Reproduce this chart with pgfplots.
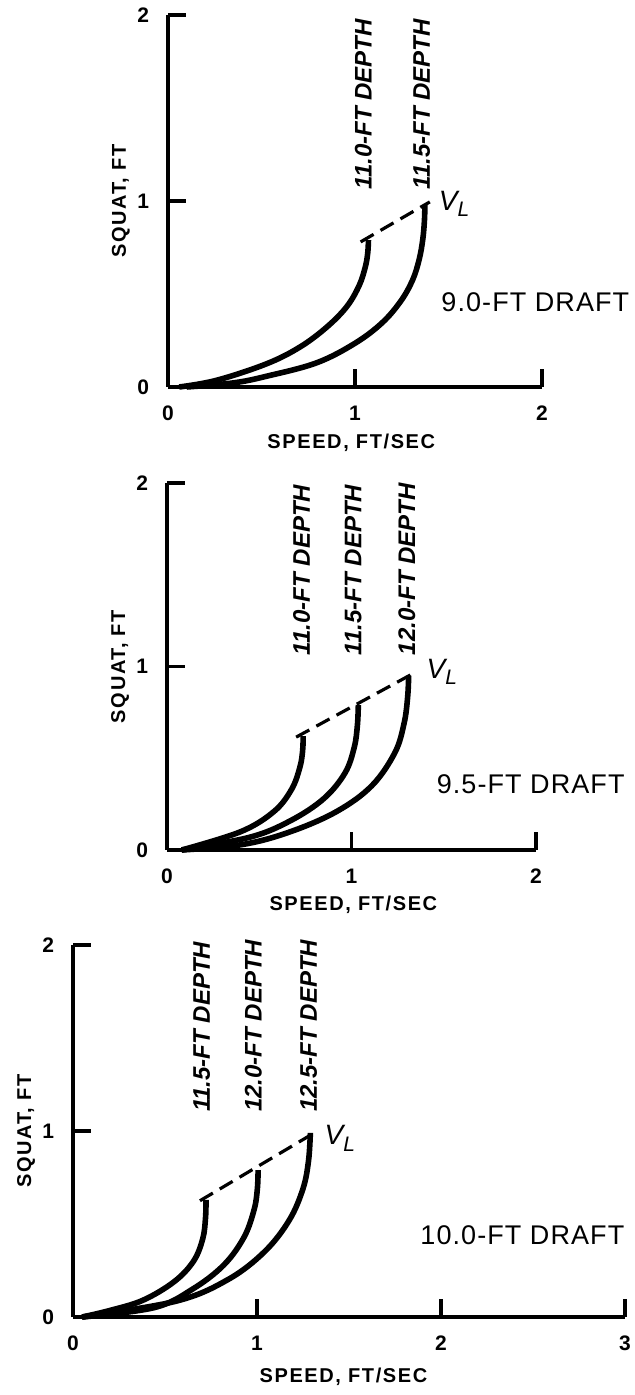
\documentclass[border=0pt]{standalone}
\usepackage{fontspec}
\setmainfont{Liberation Sans}
\usepackage{pgfplots}
\pgfplotsset{compat=1.18}
\begin{document}
\begin{tikzpicture}
\useasboundingbox (0,0) rectangle (317pt,697.5pt);
\pgfplotsset{
  squat/.style={
    scale only axis,
    anchor=south west,
    axis lines=left,
    axis line style={-, line width=1.6pt},
    enlargelimits=false,
    tick align=inside,
    major tick length=9pt,
    every tick/.style={black, line width=1.6pt},
    ymin=0, ymax=2, ytick={0,1,2},
    xmin=0,
    /pgf/number format/assume math mode=true,
    tick label style={font=\bfseries\fontsize{10.5}{12}\selectfont},
    yticklabel style={xshift=-6pt},
    xticklabel style={yshift=-6pt},
    label style={font=\bfseries\fontsize{10}{12}\selectfont\addfontfeature{LetterSpace=8}},
    xlabel={SPEED, FT/SEC},
    ylabel={SQUAT, FT},
    clip=false,
  },
  curve/.style={line width=2.8pt, smooth, tension=0.6, no markers, line cap=butt},
  vl/.style={line width=1.6pt, dash pattern=on 7.5pt off 4pt, no markers},
}
\tikzset{
  depth/.style={rotate=90, anchor=west, inner sep=0pt, font=\bfseries\itshape\fontsize{12}{14}\selectfont},
  draft/.style={anchor=west, inner sep=0pt, font=\fontsize{13.5}{15}\selectfont\addfontfeature{LetterSpace=4}},
  vlab/.style={anchor=center, inner sep=0pt, font=\itshape\fontsize{14}{16}\selectfont},
}
\newcommand{\VL}{V\raisebox{-0.45ex}{\fontsize{10.5}{12}\selectfont L}}

% ---------------- Panel 1: 9.0-FT DRAFT ----------------
\begin{axis}[squat, at={(84pt,504pt)}, width=187pt, height=186pt,
  xmax=2, xtick={0,1,2},
  xlabel style={at={(axis description cs:0.49,-0.15)}, anchor=center},
  ylabel style={at={(axis description cs:-0.126,0.5)}, anchor=center}]
\addplot[curve] coordinates {(0.06,0) (0.26,0.036) (0.528,0.125) (0.706,0.215) (0.849,0.322) (0.956,0.432) (1.022,0.545) (1.055,0.645) (1.068,0.72) (1.072,0.79)};
\addplot[curve] coordinates {(0.10,0) (0.349,0.022) (0.528,0.058) (0.795,0.13) (1.0,0.235) (1.145,0.345) (1.245,0.462) (1.308,0.575) (1.343,0.685) (1.362,0.79) (1.371,0.89) (1.374,0.978)};
\addplot[vl] coordinates {(1.03,0.78) (1.40,0.995)};
\node[depth] at (axis cs:1.045,1.06) {11.0-FT DEPTH};
\node[depth] at (axis cs:1.357,1.06) {11.5-FT DEPTH};
\node[vlab] at (axis cs:1.53,0.985) {\VL};
\node[draft] at (axis cs:1.46,0.455) {9.0-FT DRAFT};
\end{axis}

% ---------------- Panel 2: 9.5-FT DRAFT ----------------
\begin{axis}[squat, at={(83.5pt,272.5pt)}, width=184.5pt, height=183.5pt,
  xmax=2, xtick={0,1,2},
  xlabel style={at={(axis description cs:0.505,-0.15)}, anchor=center},
  ylabel style={at={(axis description cs:-0.127,0.5)}, anchor=center}]
\addplot[curve] coordinates {(0.08,0) (0.40,0.10) (0.58,0.21) (0.675,0.33) (0.72,0.45) (0.735,0.54) (0.738,0.62)};
\addplot[curve] coordinates {(0.08,0) (0.45,0.07) (0.67,0.16) (0.85,0.28) (0.965,0.42) (1.015,0.56) (1.032,0.68) (1.037,0.79)};
\addplot[curve] coordinates {(0.08,0) (0.41,0.03) (0.67,0.10) (0.92,0.21) (1.11,0.35) (1.235,0.53) (1.285,0.69) (1.304,0.83) (1.31,0.95)};
\addplot[vl] coordinates {(0.70,0.615) (1.34,0.965)};
\node[depth] at (axis cs:0.73,1.06) {11.0-FT DEPTH};
\node[depth] at (axis cs:1.01,1.06) {11.5-FT DEPTH};
\node[depth] at (axis cs:1.30,1.06) {12.0-FT DEPTH};
\node[vlab] at (axis cs:1.49,0.97) {\VL};
\node[draft] at (axis cs:1.46,0.36) {9.5-FT DRAFT};
\end{axis}

% ---------------- Panel 3: 10.0-FT DRAFT ----------------
\begin{axis}[squat, at={(36.5pt,39pt)}, width=276pt, height=186pt,
  xmax=3, xtick={0,1,2,3},
  xlabel style={at={(axis description cs:0.49,-0.161)}, anchor=center},
  ylabel style={at={(axis description cs:-0.085,0.5)}, anchor=center}]
\addplot[curve] coordinates {(0.05,0) (0.20,0.035) (0.38,0.09) (0.55,0.19) (0.655,0.30) (0.705,0.42) (0.72,0.53) (0.723,0.63)};
\addplot[curve] coordinates {(0.05,0) (0.44,0.05) (0.65,0.15) (0.82,0.28) (0.93,0.43) (0.985,0.58) (1.002,0.69) (1.006,0.79)};
\addplot[curve] coordinates {(0.05,0) (0.56,0.085) (0.84,0.20) (1.04,0.35) (1.175,0.52) (1.25,0.69) (1.28,0.84) (1.29,0.99)};
\addplot[vl] coordinates {(0.69,0.625) (1.32,0.995)};
\node[depth] at (axis cs:0.70,1.10) {11.5-FT DEPTH};
\node[depth] at (axis cs:0.98,1.10) {12.0-FT DEPTH};
\node[depth] at (axis cs:1.28,1.10) {12.5-FT DEPTH};
\node[vlab] at (axis cs:1.45,0.96) {\VL};
\node[draft] at (axis cs:1.886,0.44) {10.0-FT DRAFT};
\end{axis}
\end{tikzpicture}
\end{document}
